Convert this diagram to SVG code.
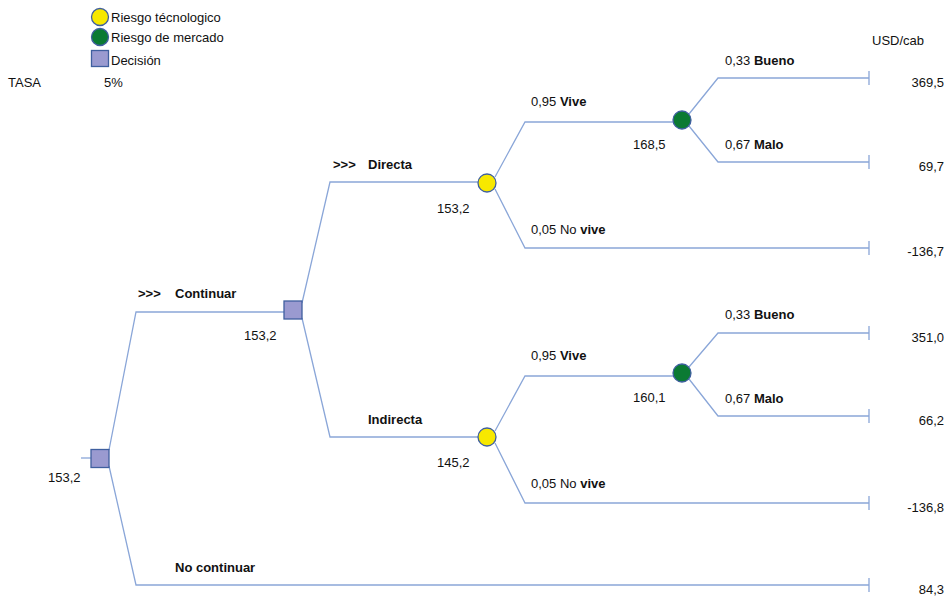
<svg xmlns="http://www.w3.org/2000/svg" width="951" height="598" viewBox="0 0 951 598">
  <style>
    text { font-family: "Liberation Sans", Arial, sans-serif; font-size: 13px; fill: #111; }
    .b { font-weight: bold; }
    .num { text-anchor: end; }
    .edge { fill: none; stroke: #8aa6d8; stroke-width: 1.3; }
    .tick { stroke: #8aa6d8; stroke-width: 1.3; }
    .dec { fill: #9a9ad0; stroke: #3f5f9f; stroke-width: 1.3; }
    .tech { fill: #f7e800; stroke: #3f5f9f; stroke-width: 1.3; }
    .mkt { fill: #0b7a33; stroke: #3f5f9f; stroke-width: 1.3; }
  </style>
  <rect width="951" height="598" fill="#ffffff"/>

  <!-- legend -->
  <g id="legend">
    <circle class="tech" cx="100" cy="17" r="8.5"/>
    <text x="111" y="22">Riesgo técnologico</text>
    <circle class="mkt" cx="100" cy="37" r="8.5"/>
    <text x="111" y="42">Riesgo de mercado</text>
    <rect class="dec" x="91.5" y="50.5" width="17" height="16"/>
    <text x="111" y="65">Decisión</text>
    <text x="8" y="87">TASA</text>
    <text x="104" y="87">5%</text>
    <text x="872" y="45">USD/cab</text>
  </g>

  <!-- connectors -->
  <g id="connectors">
    <path class="edge" d="M81 458 H91"/>
    <!-- root decision -->
    <path class="edge" d="M109 450 L136 312 H284"/>
    <path class="edge" d="M109 466 L136 585 H869"/>
    <!-- second decision -->
    <path class="edge" d="M302 303 L330 182 H478"/>
    <path class="edge" d="M302 318 L330 437 H478"/>
    <!-- technical risk, direct -->
    <path class="edge" d="M495 177 L525 122 H673"/>
    <path class="edge" d="M495 189 L525 248 H869"/>
    <!-- technical risk, indirect -->
    <path class="edge" d="M495 431 L525 376 H673"/>
    <path class="edge" d="M495 443 L525 503 H869"/>
    <!-- market risk, direct -->
    <path class="edge" d="M689 114 L718 78 H869"/>
    <path class="edge" d="M689 126 L718 162 H869"/>
    <!-- market risk, indirect -->
    <path class="edge" d="M689 367 L718 333 H869"/>
    <path class="edge" d="M689 379 L718 416 H869"/>
    <!-- terminal ticks -->
    <path class="tick" d="M869 71 V85 M869 155 V169 M869 241 V255 M869 326 V340 M869 409 V423 M869 496 V510 M869 578 V592"/>
  </g>

  <!-- decision nodes -->
  <g id="decision-root">
    <rect class="dec" x="91" y="449.5" width="18" height="18"/>
    <text x="48" y="482">153,2</text>
  </g>
  <g id="decision-continue">
    <rect class="dec" x="284" y="301" width="18" height="18"/>
    <text x="244" y="340">153,2</text>
  </g>

  <!-- technical risk nodes -->
  <g id="tech-direct">
    <circle class="tech" cx="487" cy="183" r="9"/>
    <text x="437" y="213">153,2</text>
  </g>
  <g id="tech-indirect">
    <circle class="tech" cx="487" cy="437" r="9"/>
    <text x="437" y="467">145,2</text>
  </g>

  <!-- market risk nodes -->
  <g id="market-direct">
    <circle class="mkt" cx="682" cy="120" r="9"/>
    <text x="633" y="149">168,5</text>
  </g>
  <g id="market-indirect">
    <circle class="mkt" cx="682" cy="373" r="9"/>
    <text x="633" y="402">160,1</text>
  </g>

  <!-- branch labels -->
  <g id="labels">
    <text x="138" y="298"><tspan class="b">&gt;&gt;&gt;</tspan><tspan class="b" x="175">Continuar</tspan></text>
    <text x="175" y="572" class="b">No continuar</text>
    <text x="333" y="169"><tspan class="b">&gt;&gt;&gt;</tspan><tspan class="b" x="368">Directa</tspan></text>
    <text x="368" y="424" class="b">Indirecta</text>
    <text x="531" y="106">0,95 <tspan class="b">Vive</tspan></text>
    <text x="531" y="234">0,05 No <tspan class="b">vive</tspan></text>
    <text x="531" y="360">0,95 <tspan class="b">Vive</tspan></text>
    <text x="531" y="488">0,05 No <tspan class="b">vive</tspan></text>
    <text x="725" y="65">0,33 <tspan class="b">Bueno</tspan></text>
    <text x="725" y="149">0,67 <tspan class="b">Malo</tspan></text>
    <text x="725" y="319">0,33 <tspan class="b">Bueno</tspan></text>
    <text x="725" y="403">0,67 <tspan class="b">Malo</tspan></text>
  </g>

  <!-- payoffs -->
  <g id="payoffs">
    <text class="num" x="944" y="87">369,5</text>
    <text class="num" x="944" y="171">69,7</text>
    <text class="num" x="944" y="256">-136,7</text>
    <text class="num" x="944" y="342">351,0</text>
    <text class="num" x="944" y="425">66,2</text>
    <text class="num" x="944" y="512">-136,8</text>
    <text class="num" x="944" y="594">84,3</text>
  </g>
</svg>
